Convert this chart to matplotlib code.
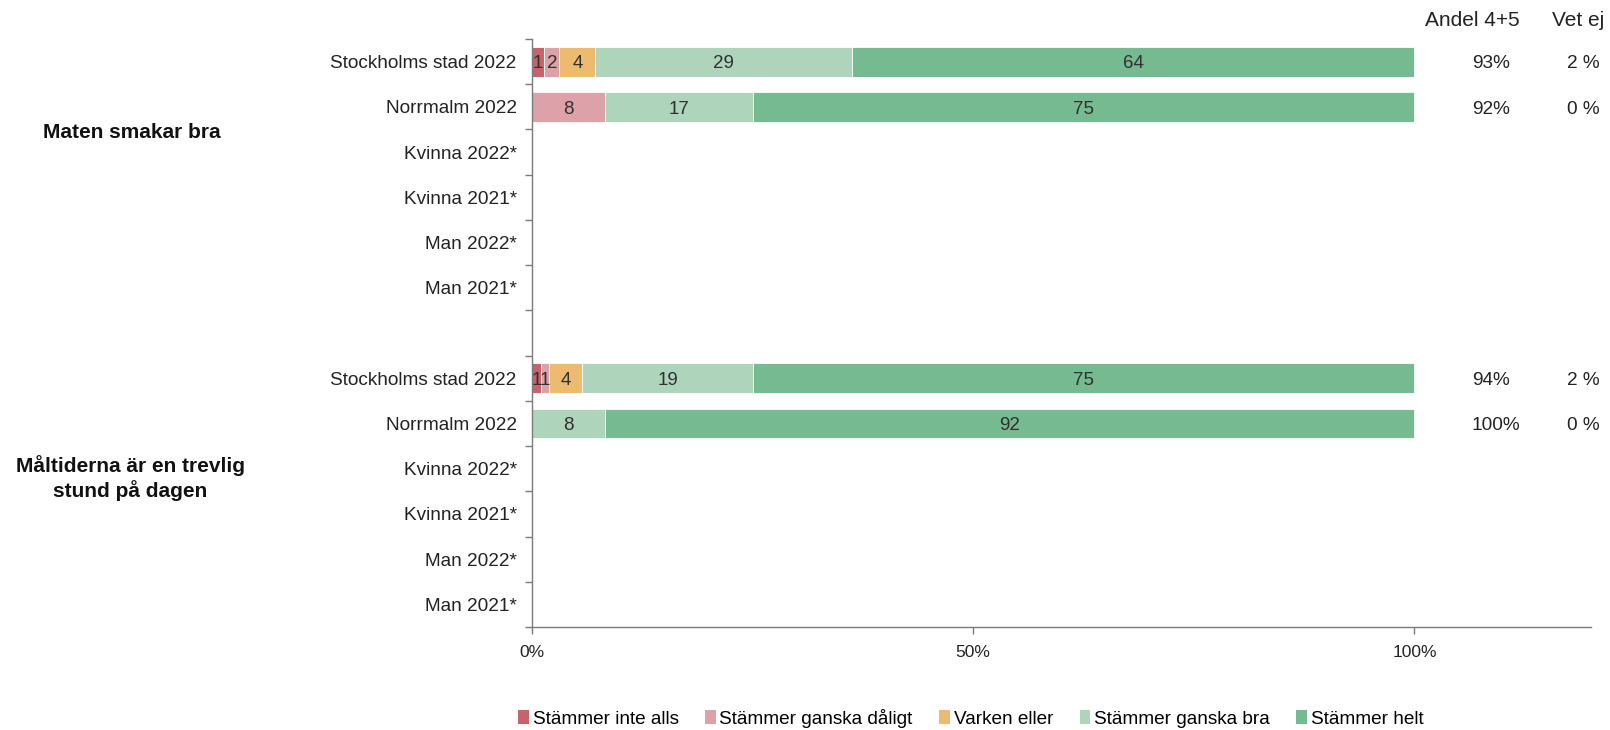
import matplotlib
matplotlib.use("Agg")
import matplotlib.pyplot as plt
from matplotlib.patches import Patch
import numpy as np

plt.rcParams["font.family"] = ["Liberation Sans", "DejaVu Sans"]

# ── Data ──────────────────────────────────────────────────────────────
row_labels = [
    "Stockholms stad 2022", "Norrmalm 2022", "Kvinna 2022*", "Kvinna 2021*",
    "Man 2022*", "Man 2021*", "",
    "Stockholms stad 2022", "Norrmalm 2022", "Kvinna 2022*", "Kvinna 2021*",
    "Man 2022*", "Man 2021*",
]
series = ["Stämmer inte alls", "Stämmer ganska dåligt", "Varken eller",
          "Stämmer ganska bra", "Stämmer helt"]
colors = ["#C7636B", "#DDA2A9", "#EDBB6F", "#AED5BB", "#76BA91"]

# percent per row (rows without data are zeros)
inte_alls   = [1.4, 0, 0, 0, 0, 0, 0, 1.0, 0, 0, 0, 0, 0]
daligt      = [1.7, 8.3, 0, 0, 0, 0, 0, 0.9, 0, 0, 0, 0, 0]
varken      = [4.1, 0, 0, 0, 0, 0, 0, 3.8, 0, 0, 0, 0, 0]
ganska_bra  = [29.1, 16.7, 0, 0, 0, 0, 0, 19.4, 8.3, 0, 0, 0, 0]
helt        = [63.7, 75.0, 0, 0, 0, 0, 0, 74.9, 91.7, 0, 0, 0, 0]

andel_45 = ["93%", "92%", "", "", "", "", "", "94%", "100%", "", "", "", ""]
vet_ej   = ["2 %", "0 %", "", "", "", "", "", "2 %", "0 %", "", "", "", ""]

group_labels = ["Maten smakar bra", "Måltiderna är en trevlig\nstund på dagen"]

# ── Plot ──────────────────────────────────────────────────────────────
fig = plt.figure(figsize=(16.1, 7.3), dpi=100)
ax = fig.add_axes([0.3304, 0.1411, 0.9882 - 0.3304, 0.9466 - 0.1411])

y = np.arange(len(row_labels))
left = np.zeros(len(row_labels))
for name, vals, col in zip(series, [inte_alls, daligt, varken, ganska_bra, helt], colors):
    vals = np.array(vals) / 100.0
    bars = ax.barh(y, vals, left=left, height=0.66, color=col,
                   edgecolor="white", linewidth=0.6, label=name)
    for b, v in zip(bars, vals):
        if v > 0:
            ax.text(b.get_x() + b.get_width() / 2, b.get_y() + b.get_height() / 2 + 0.05,
                    f"{v * 100:.0f}", ha="center", va="center",
                    fontsize=13.5, color="#303030")
    left += vals

ax.set_xlim(0, 1.2)
ax.set_ylim(len(row_labels) - 0.5, -0.5)

ax.set_xticks([0, 0.5, 1.0])
ax.set_xticklabels(["0%", "50%", "100%"], fontsize=12.5, color="#222222")
ax.tick_params(axis="x", direction="out", length=5, width=1, color="#7a7a7a", pad=8)

ax.set_yticks(y)
ax.set_yticklabels(row_labels, fontsize=13.7, color="#222222")
ax.set_yticks(np.arange(-0.5, len(row_labels)), minor=True)
ax.tick_params(axis="y", which="major", length=0, pad=11)
ax.tick_params(axis="y", which="minor", direction="out", length=5, width=1, color="#7a7a7a")

for s in ["top", "right"]:
    ax.spines[s].set_visible(False)
for s in ["left", "bottom"]:
    ax.spines[s].set_color("#7a7a7a")
    ax.spines[s].set_linewidth(1)

# right-hand columns
for i in y:
    if andel_45[i]:
        ax.text(1.065, i + 0.05, andel_45[i], ha="left", va="center", fontsize=13.7,
                color="#222222")
        ax.text(1.173, i + 0.05, vet_ej[i], ha="left", va="center", fontsize=13.7,
                color="#222222", clip_on=False)

fig.text(1425 / 1610, 1 - 20 / 730, "Andel 4+5", ha="left", va="center",
         fontsize=15, color="#222222")
fig.text(1552 / 1610, 1 - 20 / 730, "Vet ej", ha="left", va="center",
         fontsize=15, color="#222222")

# group labels
fig.text(132 / 1610, 1 - 133 / 730, group_labels[0], ha="center", va="center",
         fontsize=15, fontweight="bold", color="#111111")
fig.text(130 / 1610, 1 - 478 / 730, group_labels[1], ha="center", va="center",
         fontsize=15, fontweight="bold", color="#111111", linespacing=1.2)

handles = [Patch(facecolor=c, edgecolor="none") for c in colors]
fig.legend(handles, series, loc="center", bbox_to_anchor=(0.603, 1 - 718 / 730),
           ncol=5, frameon=False, fontsize=13.7, handlelength=0.55, handleheight=0.7,
           handletextpad=0.2, columnspacing=1.4, borderaxespad=0)

fig.savefig("out.png", dpi=100, facecolor="white")
